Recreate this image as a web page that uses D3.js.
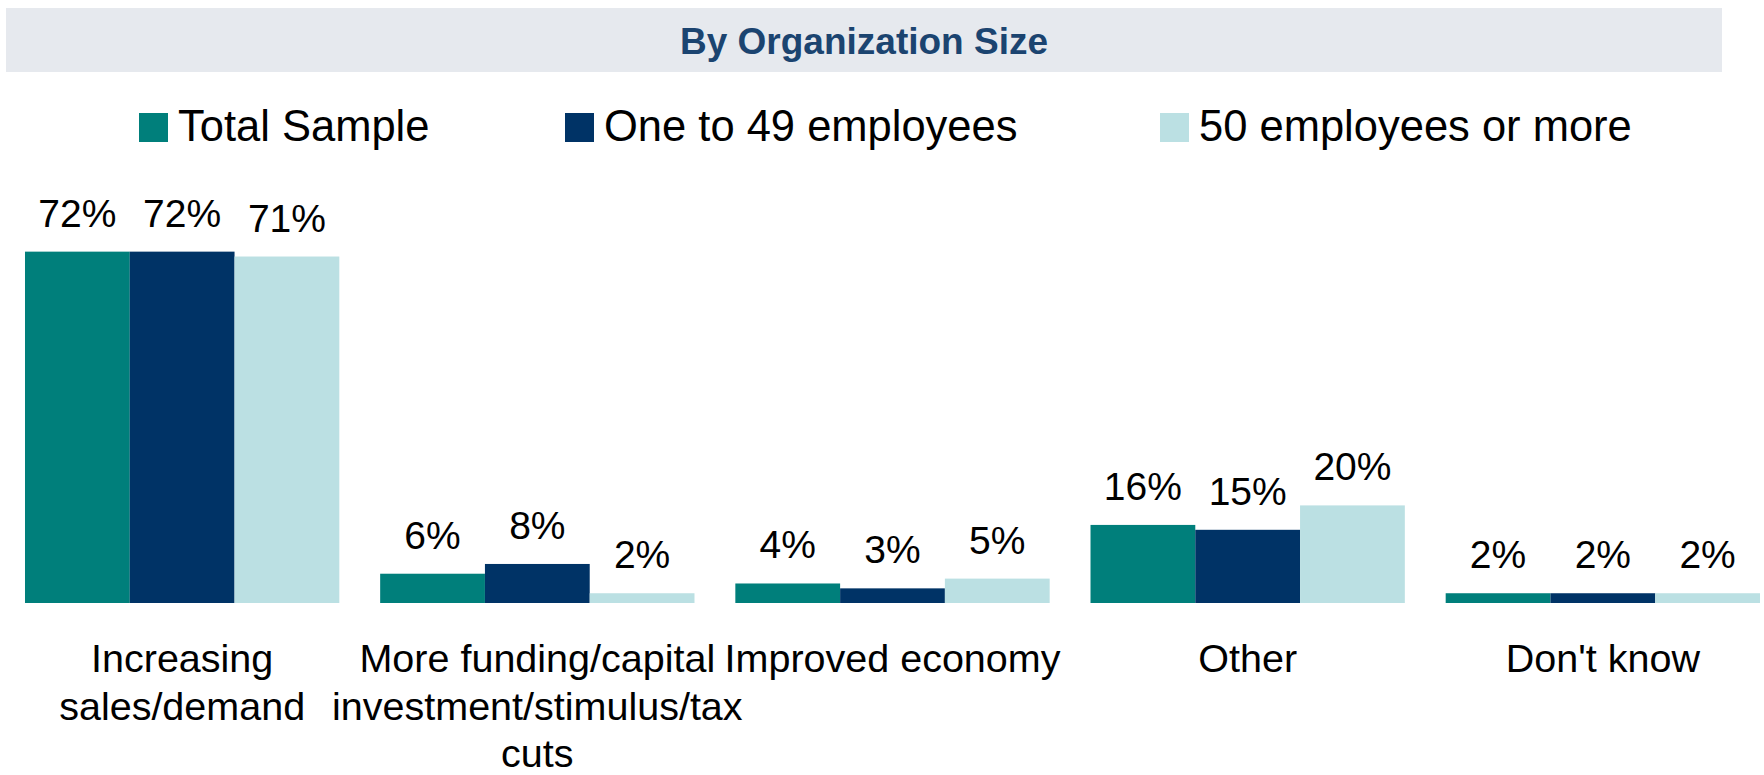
<!DOCTYPE html>
<html>
<head>
<meta charset="utf-8">
<script src="https://cdn.jsdelivr.net/npm/d3@7"></script>
<style>
  html, body { margin: 0; padding: 0; background: #ffffff; }
  svg { display: block; font-family: "Liberation Sans", Arial, Helvetica, sans-serif; }
</style>
</head>
<body>
<svg id="chart" width="1764" height="775"></svg>
<script>
// Reasons cited, by organization size (percent of respondents)
const title = "By Organization Size";
const categories = [
  "Increasing sales/demand",
  "More funding/capital investment/stimulus/tax cuts",
  "Improved economy",
  "Other",
  "Don't know"
];
// Category labels broken into the lines they are printed on
const categoryLines = [
  ["Increasing", "sales/demand"],
  ["More funding/capital", "investment/stimulus/tax", "cuts"],
  ["Improved economy"],
  ["Other"],
  ["Don't know"]
];
const seriesNames = ["Total Sample", "One to 49 employees", "50 employees or more"];
const totalSample = [72, 6, 4, 16, 2];
const oneTo49 = [72, 8, 3, 15, 2];
const fiftyPlus = [71, 2, 5, 20, 2];
const seriesValues = [totalSample, oneTo49, fiftyPlus];
const seriesColors = ["#007f7b", "#003366", "#bbe0e3"];

// Layout
const baseY = 603;
const topY = 115;          // where 100% would sit
const svg = d3.select("#chart");

// Title band
svg.append("rect")
  .attr("x", 6).attr("y", 8)
  .attr("width", 1716).attr("height", 64)
  .attr("fill", "#e6e9ee");
svg.append("text")
  .attr("x", 864).attr("y", 54)
  .attr("text-anchor", "middle")
  .attr("font-size", 37)
  .attr("font-weight", "bold")
  .attr("fill", "#1b4470")
  .text(title);

// Legend
const legendX = [139, 565, 1160];
const legend = svg.append("g").selectAll("g")
  .data(seriesNames)
  .join("g")
  .attr("transform", (d, i) => `translate(${legendX[i]},0)`);
legend.append("rect")
  .attr("x", 0).attr("y", 113)
  .attr("width", 29).attr("height", 29)
  .attr("fill", (d, i) => seriesColors[i]);
legend.append("text")
  .attr("x", 39).attr("y", 141)
  .attr("font-size", 43.5)
  .attr("fill", "#000")
  .text(d => d);

// Scales
const x0 = d3.scaleBand()
  .domain(categories)
  .range([4.5, 1780.5])
  .paddingInner(0.115)
  .paddingOuter(0.0577);
const x1 = d3.scaleBand()
  .domain(d3.range(seriesNames.length))
  .range([0, x0.bandwidth()])
  .padding(0);
const y = d3.scaleLinear().domain([0, 100]).range([baseY, topY]);

// Bars and value labels
const groups = svg.append("g").selectAll("g")
  .data(categories)
  .join("g")
  .attr("transform", d => `translate(${x0(d)},0)`);

const cells = groups.selectAll("g")
  .data((c, ci) => seriesValues.map((vals, si) => ({ si, v: vals[ci] })))
  .join("g");

cells.append("rect")
  .attr("x", d => x1(d.si))
  .attr("y", d => y(d.v))
  .attr("width", x1.bandwidth())
  .attr("height", d => y(0) - y(d.v))
  .attr("fill", d => seriesColors[d.si]);

cells.append("text")
  .attr("x", d => x1(d.si) + x1.bandwidth() / 2)
  .attr("y", d => y(d.v) - 25)
  .attr("text-anchor", "middle")
  .attr("font-size", 39)
  .attr("fill", "#000")
  .text(d => d.v + "%");

// Category axis (labels drawn as wrapped text below)
const xAxis = d3.axisBottom(x0).tickSize(0).tickFormat("");
const axisG = svg.append("g")
  .attr("transform", `translate(0,${baseY})`)
  .call(xAxis);
axisG.select(".domain").remove();

const catLabels = svg.append("g").selectAll("text")
  .data(categories)
  .join("text")
  .attr("text-anchor", "middle")
  .attr("font-size", 39.5)
  .attr("fill", "#000")
  .attr("x", d => x0(d) + x0.bandwidth() / 2)
  .attr("y", 672);
catLabels.each(function (d, i) {
  const t = d3.select(this);
  categoryLines[i].forEach((line, li) => {
    t.append("tspan")
      .attr("x", x0(d) + x0.bandwidth() / 2)
      .attr("dy", li === 0 ? 0 : 47.5)
      .text(line);
  });
});
</script>
</body>
</html>
